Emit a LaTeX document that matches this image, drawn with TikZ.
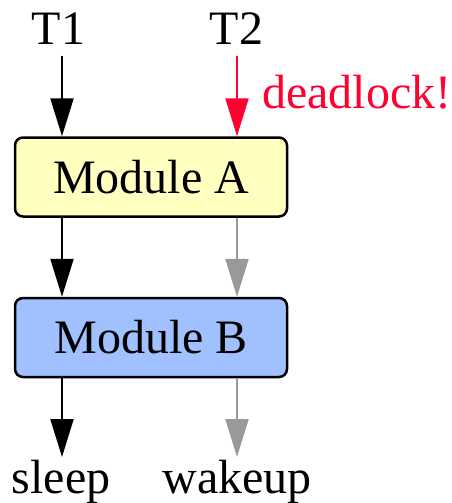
\documentclass[tikz,border=0pt]{standalone}
\usepackage{fontspec}
\setmainfont{Liberation Serif}
\usetikzlibrary{arrows.meta}
\definecolor{boxyellow}{HTML}{FFFFC0}
\definecolor{boxblue}{HTML}{A0C0FF}
\definecolor{lockred}{HTML}{FF0030}
\definecolor{flowgray}{HTML}{999999}
\begin{document}
\begin{tikzpicture}[x=1pt,y=-1pt,
  every node/.style={font=\fontsize{48}{57}\selectfont, inner sep=0pt},
  arr/.style={line width=2.2pt, -{Triangle[length=38pt,width=23pt]}},
  modbox/.style={draw, line width=2.5pt, rounded corners=8pt, minimum width=272pt, minimum height=79pt, anchor=center}]
\useasboundingbox (0,0) rectangle (452,503);
\node[anchor=base] (T1) at (58.5,45) {T1};
\node[anchor=base] (T2) at (236.5,45) {T2};
\node[modbox, fill=boxyellow] (A) at (151,177) {Module A};
\node[modbox, fill=boxblue] (B) at (151,337.5) {Module B};
\node[anchor=base west, text=lockred] (dl) at (262,108) {deadlock!};
\node[anchor=base] (sleep) at (61,493) {sleep};
\node[anchor=base] (wake) at (237,493) {wakeup};
\coordinate (c1) at (62,56);
\coordinate (c2) at (237,56);
\draw[arr] (c1) -- (c1 |- A.north);
\draw[arr, lockred] (c2) -- (c2 |- A.north);
\draw[arr] (c1 |- A.south) -- (c1 |- B.north);
\draw[arr, flowgray] (c2 |- A.south) -- (c2 |- B.north);
\coordinate (e1) at (62,457);
\coordinate (e2) at (237,457);
\draw[arr] (c1 |- B.south) -- (e1);
\draw[arr, flowgray] (c2 |- B.south) -- (e2);
\end{tikzpicture}
\end{document}
